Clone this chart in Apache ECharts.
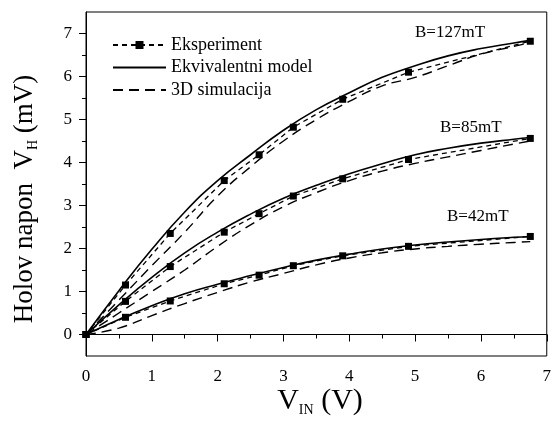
<!DOCTYPE html>
<html>
<head>
<meta charset="utf-8">
<script src="https://cdn.jsdelivr.net/npm/echarts@6/dist/echarts.min.js"></script>
<style>
html,body{margin:0;padding:0;background:#fff;}
#c{width:554px;height:427px;}
</style>
</head>
<body>
<div id="c"></div>
<script>
// ---- data ----
const expX = [0, 0.6, 1.28, 2.1, 2.63, 3.15, 3.9, 4.9, 6.75];
const exp127 = [0, 1.15, 2.35, 3.58, 4.18, 4.82, 5.47, 6.10, 6.82];
const exp85  = [0, 0.77, 1.58, 2.38, 2.81, 3.22, 3.62, 4.07, 4.56];
const exp42  = [0, 0.40, 0.78, 1.18, 1.38, 1.60, 1.83, 2.05, 2.28];

const curveX   = [0, 0.5, 1, 1.5, 2, 2.5, 3, 3.5, 4, 4.5, 5, 5.5, 6, 6.5, 6.75];
const model127 = [0, 1.02, 1.98, 2.85, 3.58, 4.18, 4.75, 5.23, 5.62, 5.98, 6.25, 6.48, 6.65, 6.78, 6.84];
const model85  = [0, 0.69, 1.33, 1.90, 2.38, 2.80, 3.17, 3.47, 3.74, 3.97, 4.18, 4.33, 4.45, 4.54, 4.58];
const model42  = [0, 0.35, 0.67, 0.95, 1.17, 1.37, 1.56, 1.73, 1.87, 1.99, 2.08, 2.15, 2.21, 2.26, 2.28];

const sim127 = [0, 0.80, 1.60, 2.38, 3.22, 3.90, 4.50, 5.00, 5.42, 5.78, 5.98, 6.25, 6.52, 6.70, 6.79];
const sim85  = [0, 0.50, 1.00, 1.50, 2.05, 2.55, 2.97, 3.30, 3.58, 3.80, 3.98, 4.13, 4.28, 4.43, 4.50];
const sim42  = [0, 0.15, 0.44, 0.72, 0.98, 1.22, 1.42, 1.62, 1.78, 1.90, 1.99, 2.05, 2.10, 2.14, 2.16];

const yTicks = [0, 1, 2, 3, 4, 5, 6, 7];
const yMinorTicks = [0.5, 1.5, 2.5, 3.5, 4.5, 5.5, 6.5];
const fieldLabels = ['B=127mT', 'B=85mT', 'B=42mT'];
const legendNames = ['Eksperiment', 'Ekvivalentni model', '3D simulacija'];

// ---- helpers ----
const zip = (xs, ys) => xs.map((x, i) => [x, ys[i]]);
const FONT = 'Liberation Serif';

function expSeries(ys) {
  return {
    name: legendNames[0], type: 'line', data: zip(expX, ys),
    symbol: 'rect', symbolSize: 7, showSymbol: true,
    itemStyle: {color: '#000'},
    lineStyle: {color: '#000', width: 1.3, type: [5, 4]},
    z: 5, animation: false
  };
}
function modelSeries(ys) {
  return {
    name: legendNames[1], type: 'line', data: zip(curveX, ys),
    smooth: true, symbol: 'none', showSymbol: false,
    itemStyle: {color: '#000'},
    lineStyle: {color: '#000', width: 1.6, type: 'solid'},
    z: 4, animation: false
  };
}
function simSeries(ys) {
  return {
    name: legendNames[2], type: 'line', data: zip(curveX, ys),
    smooth: true, symbol: 'none', showSymbol: false,
    itemStyle: {color: '#000'},
    lineStyle: {color: '#000', width: 1.4, type: [10, 6]},
    z: 3, animation: false
  };
}

const chart = echarts.init(document.getElementById('c'), null, {renderer: 'canvas'});
const option = {
  backgroundColor: '#fff',
  animation: false,
  textStyle: {fontFamily: FONT, color: '#000'},
  grid: {left: 86, right: 2, top: 12, bottom: 71, show: true, borderColor: '#000', borderWidth: 1},
  legend: {
    data: [
      {name: legendNames[0]},
      {name: legendNames[1], itemStyle: {opacity: 0}},
      {name: legendNames[2], itemStyle: {opacity: 0}}
    ],
    orient: 'vertical', left: 112, top: 36,
    itemWidth: 53, itemHeight: 10, itemGap: 4.5,
    padding: 0,
    textStyle: {fontFamily: FONT, fontSize: 18, color: '#000', lineHeight: 18},
    selectedMode: false
  },
  xAxis: {
    type: 'value', min: 0, max: 7, interval: 1,
    axisLine: {show: true, lineStyle: {color: '#000', width: 1}},
    axisTick: {show: true, length: 7, lineStyle: {color: '#000'}},
    minorTick: {show: true, splitNumber: 2, length: 4, lineStyle: {color: '#000'}},
    splitLine: {show: false},
    axisLabel: {fontFamily: FONT, fontSize: 17, color: '#000', margin: 12}
  },
  yAxis: [
    {
      type: 'value', min: -0.5, max: 7.5, position: 'left',
      axisLine: {show: true, lineStyle: {color: '#000', width: 1}},
      axisTick: {show: true, length: 7, customValues: yTicks, lineStyle: {color: '#000'}},
      splitLine: {show: false},
      axisLabel: {fontFamily: FONT, fontSize: 17, color: '#000', margin: 14, customValues: yTicks}
    },
    {
      type: 'value', min: -0.5, max: 7.5, position: 'left', offset: 0,
      axisLine: {show: false},
      axisTick: {show: true, length: 4, customValues: yMinorTicks, lineStyle: {color: '#000'}},
      splitLine: {show: false},
      axisLabel: {show: false}
    }
  ],
  series: [
    simSeries(sim127), simSeries(sim85), simSeries(sim42),
    modelSeries(model127), modelSeries(model85), modelSeries(model42),
    expSeries(exp127), expSeries(exp85), expSeries(exp42)
  ],
  graphic: [
    {type: 'text', left: 415, top: 24, style: {text: fieldLabels[0], font: '17px "Liberation Serif"', fill: '#000'}},
    {type: 'text', left: 440, top: 119, style: {text: fieldLabels[1], font: '17px "Liberation Serif"', fill: '#000'}},
    {type: 'text', left: 447, top: 208, style: {text: fieldLabels[2], font: '17px "Liberation Serif"', fill: '#000'}},
    {
      type: 'text', x: 320, y: 401,
      style: {
        text: 'V{sub|IN} (V)', align: 'center', verticalAlign: 'middle',
        fontFamily: FONT, fontSize: 30, lineHeight: 32, fill: '#000',
        rich: {sub: {fontFamily: FONT, fontSize: 14, lineHeight: 12, verticalAlign: 'bottom', fill: '#000'}}
      }
    },
    {
      type: 'text', x: 25, y: 199, rotation: Math.PI / 2,
      style: {
        text: 'Holov napon  V{sub|H} (mV)', align: 'center', verticalAlign: 'middle',
        fontFamily: FONT, fontSize: 27, lineHeight: 30, fill: '#000',
        rich: {sub: {fontFamily: FONT, fontSize: 14, lineHeight: 14, verticalAlign: 'bottom', fill: '#000'}}
      }
    }
  ]
};
chart.setOption(option);
</script>
</body>
</html>
